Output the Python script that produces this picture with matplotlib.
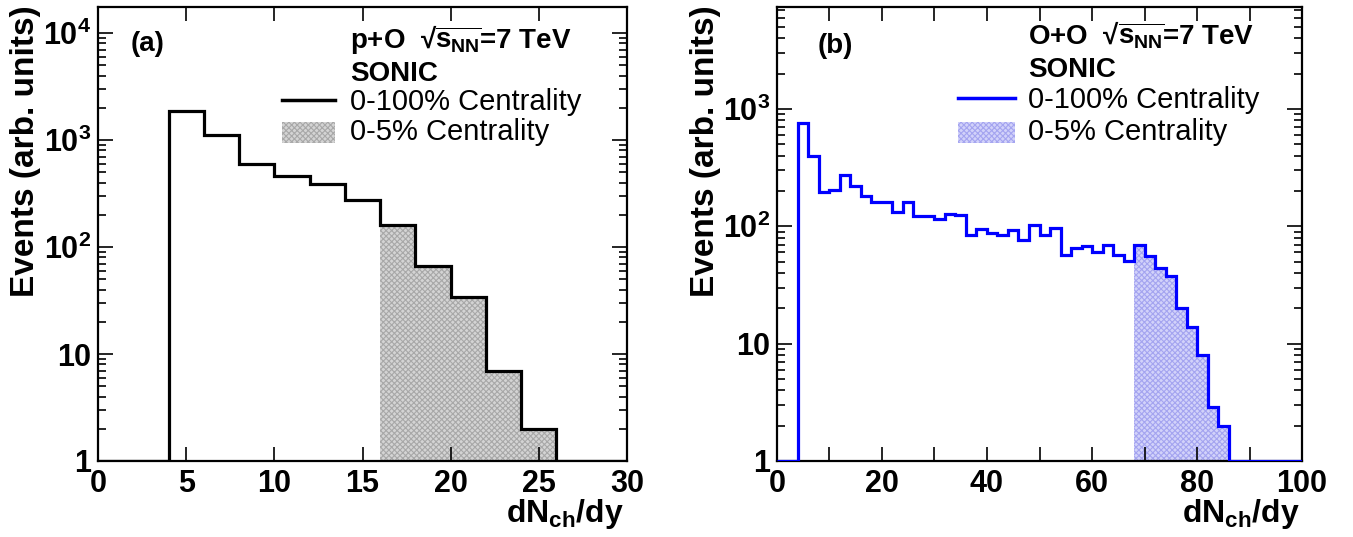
import matplotlib
matplotlib.use("Agg")
import matplotlib.pyplot as plt
import numpy as np
from matplotlib.lines import Line2D
from matplotlib.patches import Rectangle
from matplotlib.ticker import FixedLocator, FuncFormatter, LogLocator, NullFormatter

plt.rcParams['font.family'] = ['Liberation Sans', 'DejaVu Sans']
plt.rcParams['mathtext.fontset'] = 'custom'
plt.rcParams['mathtext.rm'] = 'Liberation Sans:bold'
plt.rcParams['mathtext.it'] = 'Liberation Sans:bold'
plt.rcParams['mathtext.bf'] = 'Liberation Sans:bold'
plt.rcParams['mathtext.sf'] = 'Liberation Sans:bold'
plt.rcParams['hatch.linewidth'] = 0.8

# ---------------- data ----------------
# panel (a): p+O, bin width 2 from 0 to 30
edges_a = np.arange(0, 31, 2)
counts_a = [0, 0, 1850, 1120, 595, 460, 385, 273, 160, 66, 34, 6.9, 2.0, 0, 0]
central_a = (16, 26)          # 0-5% centrality range

# panel (b): O+O, bin width 2 from 0 to 100
edges_b = np.arange(0, 101, 2)
counts_b = [0, 0,
            753, 397, 195, 205, 274, 222, 182, 162, 162, 132,
            162, 122, 122, 115, 128, 125, 85, 95, 88, 85,
            93, 77, 102, 84, 96, 57, 65, 68, 61, 70,
            57, 51, 70, 56, 44, 38, 20, 14, 8.0, 2.9,
            2.0,
            0, 0, 0, 0, 0, 0, 0]
central_b = (68, 86)

ytick_values = [1, 10, 100, 1000, 10000]
ytick_labels = ['1', '10', r'$10^{2}$', r'$10^{3}$', r'$10^{4}$']
xticks_a = [0, 5, 10, 15, 20, 25, 30]
xticks_b = [0, 10, 20, 30, 40, 50, 60, 70, 80, 90, 100]
xlabels_b = ['0', '', '20', '', '40', '', '60', '', '80', '', '100']

W, H = 1353, 537
fig = plt.figure(figsize=(W / 100, H / 100), dpi=100)


def fx(px):
    return px / W


def fy(py):
    return 1 - py / H


def make_axes(l, t, r, b):
    return fig.add_axes([fx(l), fy(b), fx(r) - fx(l), fy(t) - fy(b)])


ax_a = make_axes(98, 7, 627, 461)
ax_b = make_axes(777, 7, 1302, 461)


def draw_hist(ax, edges, counts, central, color, fillcolor, hatchcolor, ymax, xmax, xticks, xlabels):
    counts = np.asarray(counts, dtype=float)
    shown = np.where(counts > 0, counts, 1.0)
    lo = np.searchsorted(edges, central[0])
    hi = np.searchsorted(edges, central[1])
    ax.stairs(shown[lo:hi], edges[lo:hi + 1], fill=True, baseline=1,
              facecolor=fillcolor, edgecolor=hatchcolor, hatch='xxxxxx', lw=0, zorder=1)
    ax.stairs(shown, edges, baseline=None, color=color, lw=2.3, zorder=3)
    ax.set_yscale('log')
    ax.set_ylim(1, ymax)
    ax.set_xlim(0, xmax)
    ax.yaxis.set_major_locator(FixedLocator(ytick_values))
    lab = dict(zip(ytick_values, ytick_labels))
    ax.yaxis.set_major_formatter(FuncFormatter(lambda v, p: lab.get(int(round(v)), '')))
    ax.yaxis.set_minor_locator(LogLocator(base=10, subs=np.arange(2, 10)))
    ax.yaxis.set_minor_formatter(NullFormatter())
    ax.set_xticks(xticks)
    ax.set_xticklabels(xlabels)
    ax.tick_params(which='both', direction='in', top=True, right=True, width=1.2)
    ax.tick_params(axis='y', which='major', length=11, labelsize=22, pad=5)
    ax.tick_params(axis='y', which='minor', length=6)
    ax.tick_params(axis='x', which='major', length=10, labelsize=22, pad=6)
    for lbl in ax.get_xticklabels() + ax.get_yticklabels():
        lbl.set_fontweight('bold')
    for s in ax.spines.values():
        s.set_linewidth(1.6)
    ax.set_facecolor('white')


FILL_A, HATCH_A = '#d4d4d4', '#a8a8a8'
FILL_B, HATCH_B = '#d2d2fa', '#a4a4f0'

draw_hist(ax_a, edges_a, counts_a, central_a, 'black', FILL_A, HATCH_A, 1.75e4, 30,
          xticks_a, [str(v) for v in xticks_a])
draw_hist(ax_b, edges_b, counts_b, central_b, '#0000ff', FILL_B, HATCH_B, 7.4e3, 100,
          xticks_b, xlabels_b)

# axis titles
for xl in (10, 690):
    fig.text(fx(xl), fy(5), 'Events (arb. units)', rotation=90, ha='left', va='top',
             fontsize=24, fontweight='bold')
for xr in (624, 1300):
    fig.text(fx(xr), fy(522), r'dN$_{ch}$/dy', ha='right', va='baseline',
             fontsize=23, fontweight='bold')


# in-plot texts and legends
def annot(tag, tag_x, tag_y, system, tx, y_sys, y_sonic, y_l1, y_l2, lx0, lx1, color, fillcolor, hatchcolor):
    fig.text(fx(tag_x), fy(tag_y), tag, ha='left', va='center', fontsize=20, fontweight='bold')
    fig.text(fx(tx), fy(y_sys), system + '  \u221a' + r'$\overline{s_{NN}}$=7 TeV', ha='left', va='center',
             fontsize=20, fontweight='bold')
    fig.text(fx(tx), fy(y_sonic), 'SONIC', ha='left', va='center', fontsize=20, fontweight='bold')
    fig.text(fx(tx), fy(y_l1), '0-100% Centrality', ha='left', va='center', fontsize=21)
    fig.text(fx(tx), fy(y_l2), '0-5% Centrality', ha='left', va='center', fontsize=21)
    fig.add_artist(Line2D([fx(lx0), fx(lx1)], [fy(y_l1 - 2), fy(y_l1 - 2)], color=color, lw=2.5,
                          transform=fig.transFigure))
    fig.add_artist(Rectangle((fx(lx0), fy(y_l2 + 11)), fx(lx1) - fx(lx0), fy(y_l2 - 10) - fy(y_l2 + 11),
                             facecolor=fillcolor, edgecolor=hatchcolor, hatch='xxxxxx', lw=0,
                             transform=fig.transFigure))


annot('(a)', 131, 44, 'p+O', 350, 40, 74, 102, 132, 282, 335, 'black', FILL_A, HATCH_A)
annot('(b)', 818, 46, 'O+O', 1028, 35, 70, 100, 132, 958, 1015, '#0000ff', FILL_B, HATCH_B)

fig.savefig('out.png', dpi=100)
